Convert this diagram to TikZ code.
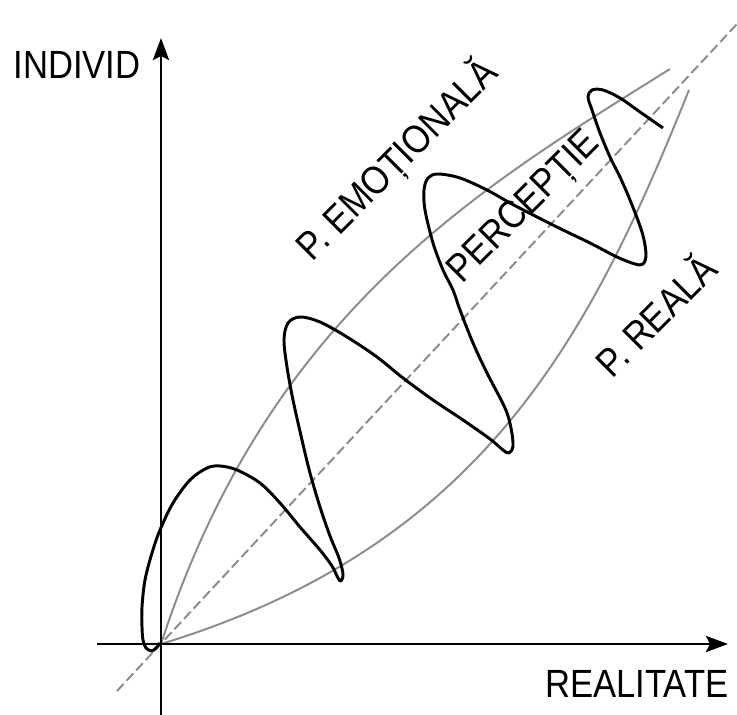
\documentclass[tikz,border=0pt]{standalone}
\usepackage{fontspec}
\newfontfamily\lblfont[FakeStretch=0.88]{Liberation Sans}
\usetikzlibrary{arrows.meta}
\tikzset{
  lbl/.style={font=\lblfont\fontsize{28}{30}\selectfont, inner sep=0pt},
  axis/.style={line width=2.1pt, -{Stealth[length=0.55cm,width=0.4cm,inset=0.1cm]}},
  band/.style={line width=1.4pt, black!45},
  diag/.style={line width=1.4pt, black!45, dash pattern=on 7pt off 3pt},
  wave/.style={line width=2.1pt, line join=round}
}
\begin{document}
\begin{tikzpicture}[x=0.025cm, y=0.025cm]
  \useasboundingbox (-161,-71) rectangle (576,644);
  \coordinate (O) at (0,0);
  \coordinate (ybot) at (0,-71);
  \coordinate (ytop) at (0,606);
  \coordinate (xbeg) at (-64,0);
  \coordinate (xend) at (567,0);
  \coordinate (dbeg) at (-44,-47);
  \coordinate (dend) at (576,620);
  \coordinate (emo) at (509,575);
  \coordinate (rea) at (528,554);
  \draw[diag] (dbeg) -- (dend);
  \draw[band] (O) .. controls (108,333) and (322,458) .. (emo);
  \draw[band] (O) .. controls (325,99) and (431,313) .. (rea);
  \draw[axis] (ybot) -- (ytop);
  \draw[axis] (xbeg) -- (xend);
  \draw[wave] plot[smooth, tension=0.55] coordinates {
    (-1,1) (-4,-3) (-9,-7) (-15,-4) (-18,4) (-19,17) (-19,37) (-16,64)
    (-9,91) (-1,114) (12,141) (29,164) (46,176) (59,178) (76,174) (99,161)
    (119,141) (139,117) (159,94) (171,78) (177,66) (180,63) (182,70)
    (178,86) (169,108)
    (159,137) (149,171) (141,204) (132,244) (126,277) (123,304) (127,321)
    (139,327) (159,322) (186,307) (216,287) (242,266) (272,244) (302,224)
    (329,205) (342,194) (348,191) (352,198) (350,216) (344,236) (326,271) (312,301)
    (299,334) (292,354) (282,374) (272,401) (264,434) (263,454) (267,466)
    (277,470) (299,466) (326,454) (349,441) (376,427) (402,414) (429,401)
    (456,387) (474,380) (482,380) (485,390) (481,412) (469,444) (459,467)
    (449,487) (439,511) (431,534) (427,547) (431,554) (442,554) (459,546)
    (479,532) (502,516)};
  \node[lbl] (individ) at (-84,579) {INDIVID};
  \node[lbl] (realitate) at (476,-40) {REALITATE};
  \node[lbl, rotate=45] (pemo) at (236,484) {P. EMOȚIONALĂ};
  \node[lbl, rotate=45] (perc) at (364,436) {PERCEPȚIE};
  \node[lbl, rotate=45] (preal) at (493,330) {P. REALĂ};
\end{tikzpicture}
\end{document}
